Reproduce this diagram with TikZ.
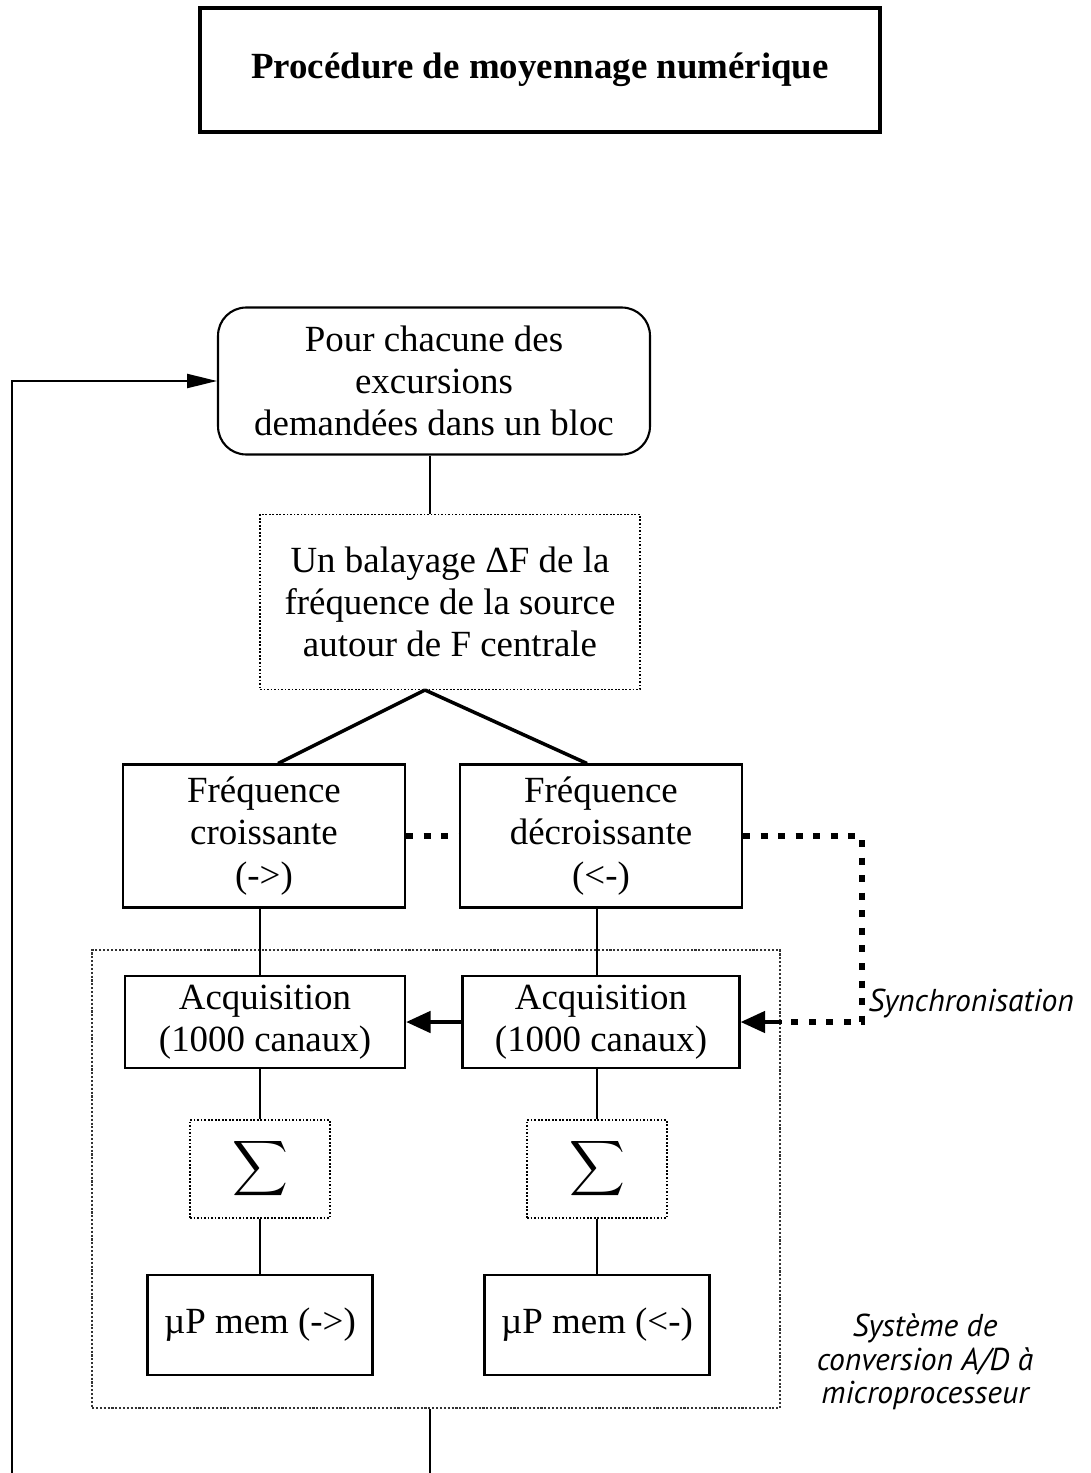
\documentclass[tikz,border=0pt]{standalone}
\usepackage{fontspec}
\setmainfont{Liberation Serif}
\newfontfamily\noteFont{PT Sans}
\usetikzlibrary{positioning,arrows.meta}
\colorlet{boxLine}{black}
\colorlet{frameLine}{black!80}
\tikzstyle{boxText}=[align=center,inner sep=0pt,font=\fontsize{21}{24}\selectfont]
\tikzstyle{plainBox}=[boxText,draw=boxLine,line width=1.2pt]
\tikzstyle{dottedBox}=[boxText,draw=boxLine,line width=1pt,densely dotted]
\tikzstyle{roundBox}=[plainBox,rounded corners=16pt]
\tikzstyle{titleBox}=[draw=boxLine,line width=2pt,font=\fontsize{21}{24}\selectfont\bfseries]
\tikzstyle{frameBox}=[draw=frameLine,line width=1.2pt,densely dotted]
\tikzstyle{noteText}=[align=center,inner sep=0pt,font=\fontsize{18}{19}\selectfont\noteFont\itshape]
\tikzstyle{joinLine}=[line width=0.9pt]
\tikzstyle{forkLine}=[line width=2pt]
\tikzstyle{syncLine}=[line width=3pt,dash pattern=on 4pt off 6pt]
\tikzstyle{bigArrow}=[line width=2.6pt,-{Triangle[length=14pt,width=12pt]}]

\begin{document}
\begin{tikzpicture}[x=0.02cm,y=-0.02cm]
\useasboundingbox (0,0) rectangle (1091,1473);
        \node[titleBox,minimum width=13.6cm,minimum height=2.48cm] 
        (title) at (540,70) 
        {\raisebox{4pt}{Procédure de moyennage numérique}};
        % outer frame of the A/D system
        \node[frameBox,minimum width=13.76cm,minimum height=9.16cm] 
        (sysbox) at (436,1179) {};
        \node[roundBox,minimum width=8.64cm,minimum height=2.94cm] 
        (start) at (434,381) 
        {Pour chacune des\\excursions\\demandées dans un bloc};
        \node[dottedBox,minimum width=7.6cm,minimum height=3.5cm] 
        (sweep) at (450,602) 
        {Un balayage ΔF de la\\fréquence de la source\\autour de F centrale};
        \node[plainBox,minimum width=5.64cm,minimum height=2.86cm] 
        (freqL) at (264,836) 
        {Fréquence\\croissante\\(->)};
        \node[plainBox,minimum width=5.64cm,minimum height=2.86cm] 
        (freqR) at (601,836) 
        {Fréquence\\décroissante\\(<-)};
        \node[plainBox,minimum width=5.6cm,minimum height=1.84cm] 
        (acqL) at (265,1022) 
        {Acquisition\\(1000 canaux)};
        \node[plainBox,minimum width=5.54cm,minimum height=1.84cm] 
        (acqR) at (601,1022) 
        {Acquisition\\(1000 canaux)};
        \foreach \side/\x/\dir in {L/260/->,R/597/<-} {
                \node[dottedBox,minimum width=2.8cm,minimum height=1.96cm] 
                (sum\side) at (\x,1169) 
                {\scalebox{2.2}{$\displaystyle\sum$}};
                \node[plainBox,minimum width=4.5cm,minimum height=2cm] 
                (mem\side) at (\x,1325) 
                {µP mem (\dir)};
                \draw[joinLine] (freq\side.south -| sum\side.north) 
                -- (acq\side.north -| sum\side.north);
                \draw[joinLine] (acq\side.south -| sum\side.north) 
                -- (sum\side.north);
                \draw[joinLine] (sum\side.south) -- (mem\side.north);
        }
        \node[noteText,anchor=west] 
        (syncLabel) at (868,1003) 
        {Synchronisation};
        \node[noteText] 
        (sysLabel) at (925,1362) 
        {Système de\\conversion A/D à\\microprocesseur};
        % connectors
        \coordinate (split) at (425,690);
        \coordinate (syncTurn) at (862,1022);
        \coordinate (syncTip) at (782,1022);
        \coordinate (loopOut) at (430,1473);
        \coordinate (loopIn) at (12,1473);
        \draw[joinLine] (start.south -| loopOut) -- (sweep.north -| loopOut);
        \draw[forkLine] (split) -- ([xshift=8pt]freqL.north);
        \draw[forkLine] (split) -- ([xshift=-8pt]freqR.north);
        \draw[syncLine] (freqL.east) -- (freqR.west);
        \draw[syncLine] (freqR.east) -| (syncTurn) -- (syncTip);
        \draw[bigArrow] (syncTip) -- (acqR.east);
        \draw[bigArrow] (acqR.west) -- (acqL.east);
        \draw[joinLine] (sysbox.south -| loopOut) -- (loopOut);
        \draw[line width=1.1pt,-{Triangle[length=17pt,width=8pt]}] 
        (loopIn) |- (start.west);
\end{tikzpicture}
\end{document}
